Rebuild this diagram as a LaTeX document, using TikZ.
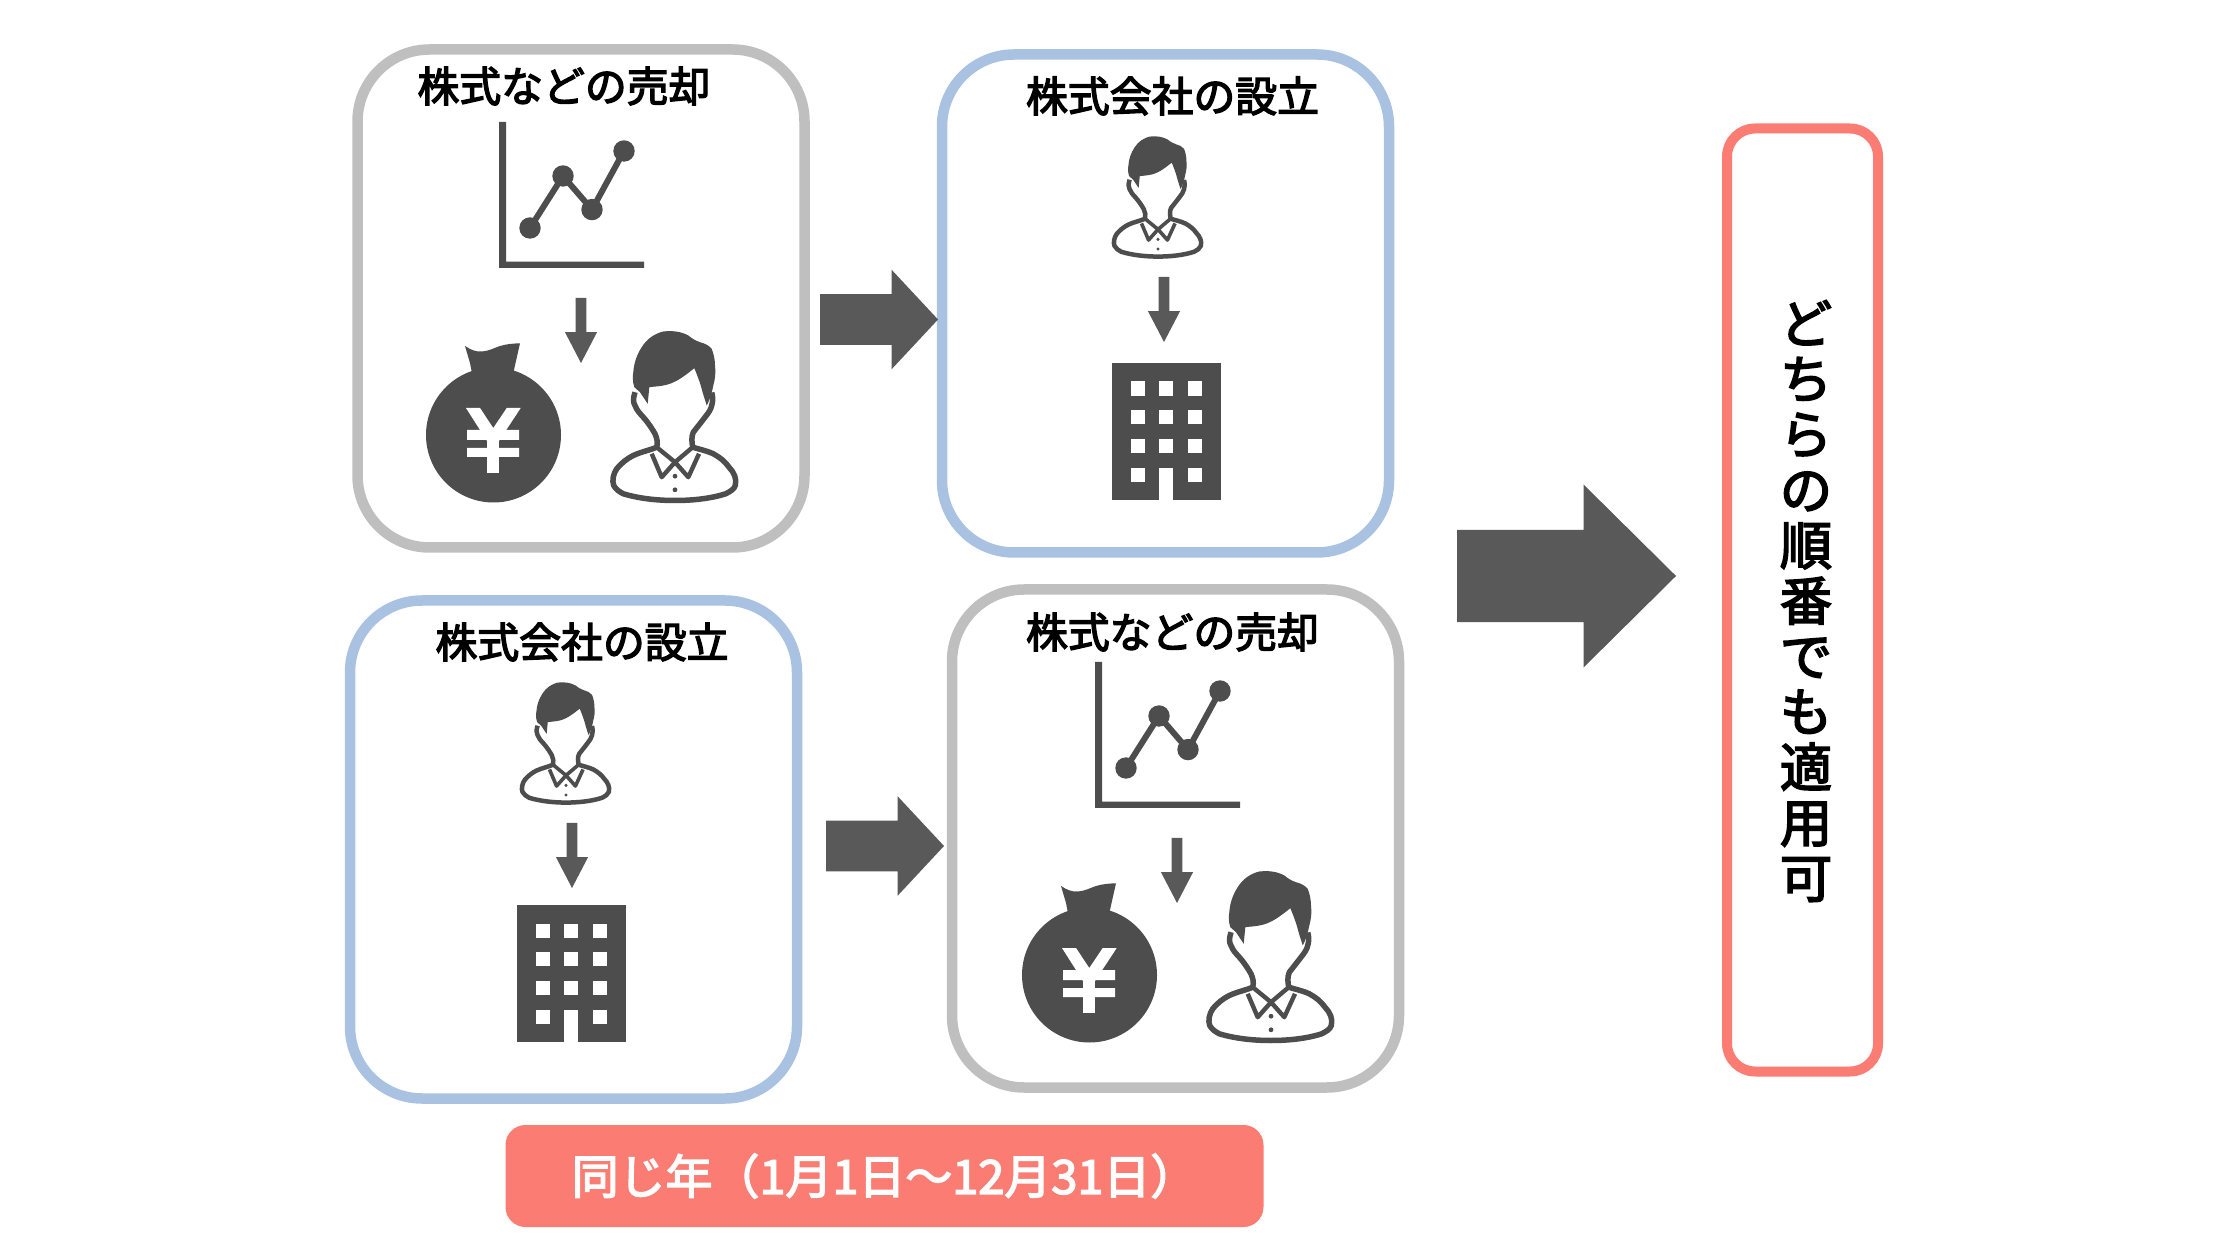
\documentclass[tikz,border=0pt]{standalone}
\usepackage{fontspec}
\setmainfont{Noto Sans CJK JP}
\newfontfamily\medfont[FakeBold=3.2]{Noto Sans CJK JP}
\usetikzlibrary{shapes.arrows}
\def\pxu{0.375pt}
\definecolor{icondark}{HTML}{4D4D4D}
\definecolor{arrowdark}{HTML}{595959}
\definecolor{framegray}{HTML}{BFBFBF}
\definecolor{frameblue}{HTML}{AAC2E2}
\definecolor{framered}{HTML}{FB7C72}
\tikzset{
  framebox/.style={draw=#1,fill=white,line width=10.5*\pxu,rounded corners=72*\pxu,inner sep=0pt,outer sep=0pt,minimum width=447*\pxu,minimum height=498*\pxu},
  titletext/.style={inner sep=0pt,font=\medfont\fontsize{15.7}{18}\selectfont,text=black},
  downarrow/.style={single arrow,fill=arrowdark,inner xsep=0pt,inner ysep=4.75*\pxu,outer sep=0pt,anchor=tail,rotate=-90,minimum height=65*\pxu,single arrow head extend=10.75*\pxu,single arrow head indent=0pt,single arrow tip angle=55},
  midarrow/.style={single arrow,fill=arrowdark,inner xsep=0pt,inner ysep=24.75*\pxu,outer sep=0pt,anchor=tail,minimum height=118*\pxu,single arrow head extend=24.5*\pxu,single arrow head indent=0pt,single arrow tip angle=94},
  bigarrow/.style={single arrow,fill=arrowdark,inner xsep=0pt,inner ysep=45.5*\pxu,outer sep=0pt,anchor=tail,minimum height=219*\pxu,single arrow head extend=45.5*\pxu,single arrow head indent=0pt,single arrow tip angle=89.4},
  pics/person/.style={code={
    \draw[icondark,line width=#1*\pxu,fill=white,line join=round]
      (-40,-110.3) .. controls (-42,-104) and (-42,-100) .. (-40,-97)
      .. controls (-38,-92) and (-36,-90) .. (-31.7,-85.3)
      .. controls (-27,-80) and (-23,-74) .. (-20,-68.7)
      .. controls (-18,-64) and (-17,-60) .. (-18.3,-55.3)
      .. controls (-26,-52) and (-33,-51) .. (-41.7,-47)
      .. controls (-48,-44) and (-54,-39) .. (-58.3,-33.7)
      .. controls (-62,-28) and (-63,-22) .. (-61.3,-17)
      .. controls (-59,-13) and (-56,-11) .. (-51.7,-8.7)
      .. controls (-36,-4) and (-18,-2) .. (0,-2)
      .. controls (18,-2) and (36,-4) .. (50.7,-8.7)
      .. controls (55,-11) and (59,-13) .. (60.3,-17)
      .. controls (62,-24) and (59,-30) .. (54,-35.3)
      .. controls (50,-41) and (45,-45) .. (38.3,-48.7)
      .. controls (31,-52) and (25,-53) .. (17.7,-55.3)
      .. controls (17,-60) and (16,-65) .. (18.3,-70.3)
      .. controls (22,-75) and (26,-80) .. (30,-85.3)
      .. controls (33,-89) and (36,-93) .. (36.7,-97)
      .. controls (38,-101) and (38,-106) .. (36.7,-110);
    \draw[icondark,line width=0.8*#1*\pxu,line join=round] (-23.3,-48.7) -- (-13.3,-25.3) -- (0,-40.3) -- (13.3,-25.3) -- (24,-48.7);
    \draw[icondark,line width=0.8*#1*\pxu,line join=round] (-18.3,-55.3) -- (0,-40.3) -- (17.7,-55.3);
    \fill[icondark] (0,-26.3) circle (2.4) (0,-12.7) circle (2.4);
    \fill[icondark]
      (-40.7,-115.3) .. controls (-43,-122) and (-42,-128) .. (-41.7,-130.3)
      .. controls (-41,-140) and (-38,-148) .. (-33.3,-155.3)
      .. controls (-28,-164) and (-20,-169) .. (-11.7,-171)
      .. controls (-2,-172) and (6,-171) .. (13.3,-167)
      .. controls (17,-164) and (20,-162) .. (25,-160.3)
      .. controls (30,-159) and (34,-157) .. (36.7,-153.7)
      .. controls (39,-148) and (40,-142) .. (40,-137)
      .. controls (41,-130) and (40,-123) .. (38.3,-117)
      .. controls (37,-110) and (35,-103) .. (31.7,-97)
      .. controls (30,-103) and (28,-108) .. (26.7,-113.7)
      .. controls (25,-120) and (22,-128) .. (19.3,-134.3)
      .. controls (14,-130) and (10,-127) .. (5,-123.7)
      .. controls (-1,-120) and (-6,-118) .. (-11.7,-117)
      .. controls (-16,-116) and (-21,-116) .. (-25.7,-115.3)
      -- (-27.3,-98.7) -- (-35,-110.3) -- cycle;
  }},
  pics/building/.style={code={
    \fill[icondark] (0,0) rectangle (109,137);
    \foreach \cx in {19,47,76}{
      \foreach \cy in {18.5,47,76}{
        \fill[white] (\cx,\cy) rectangle ++(14.3,14.1);
      }
    }
    \fill[white] (19,104.6) rectangle ++(14.3,14.1);
    \fill[white] (76,104.6) rectangle ++(14.3,14.1);
    \fill[white] (47,104.6) rectangle (61.3,137);
  }},
  pics/salecontent/.style={code={
    % chart axes
    \fill[icondark] (499,122) -- (506,122) -- (506,261.7) -- (644,261.7) -- (644,268) -- (499,268) -- cycle;
    \draw[icondark,line width=6*\pxu] (530,228) -- (563,176) -- (592,209.6) -- (624,151);
    \fill[icondark] (530,228) circle (10.7) (563,176) circle (10.7) (592,209.6) circle (10.7) (624,151) circle (10.7);
    % down arrow
    \node[downarrow] (#1arrow) at (581,298) {};
    % money bag
    \fill[icondark] (426,435) arc[start angle=180,end angle=-180,radius=67.5];
    \fill[icondark] (465,346) .. controls (471,350) and (476,352) .. (482,351.5)
      .. controls (489,351) and (494,348) .. (500,346)
      .. controls (507,344) and (513,343.5) .. (520,343.3)
      -- (511.7,380) -- (473.3,380) -- (470,363) -- cycle;
    \fill[white] (466,408) -- (480,408) -- (493.3,428) -- (506.7,408) -- (520.7,408) -- (499,441) -- (487,441) -- cycle;
    \fill[white] (487,430) rectangle (499,473);
    \fill[white] (467,430) rectangle (519,440) (467,448) rectangle (519,457);
    % person
    \pic at (675,502.5) {person=5.5};
  }},
  pics/foundperson/.style={code={
    \pic[scale=0.71] at (1158,258) {person=4.5};
    \node[downarrow] (#1arrow) at (1164,277) {};
  }}
}
\begin{document}
\begin{tikzpicture}[x=0.375pt,y=-0.375pt]
\useasboundingbox (0,0) rectangle (2240,1260);
% frames
\node[framebox=framegray] (boxA) at (581,298.5) {};
\node[framebox=frameblue] (boxB) at (1165.5,303.5) {};
\node[framebox=frameblue] (boxC) at (573.5,849.5) {};
\node[framebox=framegray] (boxD) at (1175.5,838.5) {};
\node[draw=framered,fill=white,line width=10*\pxu,rounded corners=28*\pxu,inner sep=0pt,outer sep=0pt,minimum width=151*\pxu,minimum height=943*\pxu] (boxE) at (1802.5,600) {};
\node[fill=framered,rounded corners=20*\pxu,inner sep=0pt,outer sep=0pt,minimum width=758*\pxu,minimum height=102*\pxu,text=white,font=\medfont\fontsize{17.6}{20}\selectfont] (banner) at (884.5,1176) {同じ年（1月1日～12月31日）};
% titles
\node[titletext] (titleA) at (564,86) {株式などの売却};
\node[titletext] (titleB) at (1172.5,96) {株式会社の設立};
\node[titletext] (titleC) at (582,642) {株式会社の設立};
\node[titletext] (titleD) at (1172.5,632) {株式などの売却};
% contents
\pic at (0,0) {salecontent=a};
\pic at (0,0) {foundperson=b};
\pic at (1112,363) {building};
\pic at (-592,546) {foundperson=c};
\pic at (517,905) {building};
\pic at (596,540) {salecontent=d};
% block arrows
\node[midarrow] (arrowAB) at (820,319.5) {};
\node[midarrow] (arrowCD) at (826,846) {};
\node[bigarrow] (arrowEnd) at (1457,576) {};
% vertical text
\node[inner sep=0pt,align=center,font=\medfont\fontsize{19.6}{20.8}\selectfont] (verticaltext) at (1806,601) {ど\\ち\\ら\\の\\順\\番\\で\\も\\適\\用\\可};
\end{tikzpicture}
\end{document}
